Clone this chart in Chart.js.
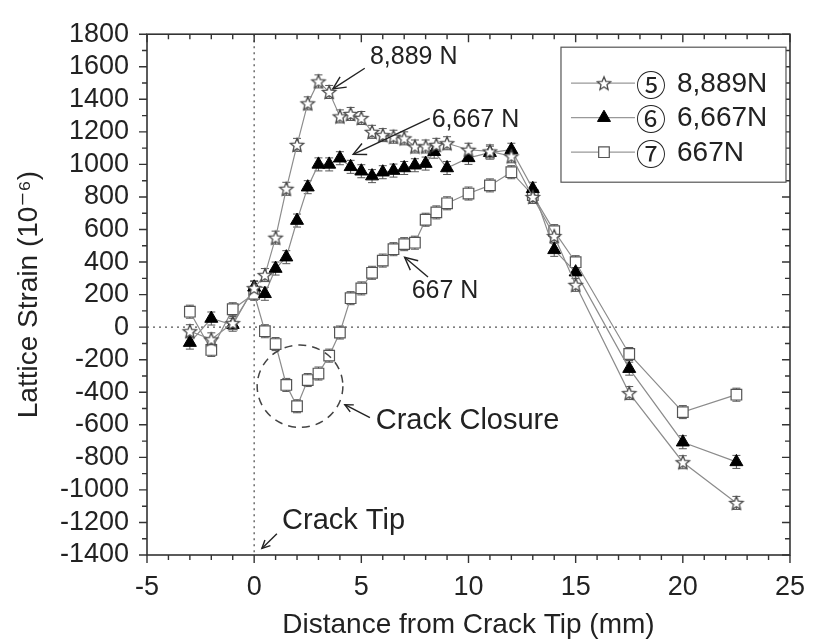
<!DOCTYPE html>
<html><head><meta charset="utf-8">
<script src="https://cdn.jsdelivr.net/npm/chart.js@4.4.1/dist/chart.umd.min.js"></script>
<style>html,body{margin:0;padding:0;background:#fff}canvas{display:block}</style>
</head><body>
<canvas id="c" width="821" height="644"></canvas>
<script>
// ---- data ----
const xStar = [-3,-2,-1,0,0.5,1,1.5,2,2.5,3,3.5,4,4.5,5,5.5,6,6.5,7,7.5,8,8.5,9,10,11,12,13,14,15,17.5,20,22.5];
const yStar = [-25,-75,25,240,320,550,850,1120,1375,1510,1445,1295,1310,1285,1200,1180,1170,1160,1110,1110,1120,1130,1090,1080,1050,800,560,260,-405,-830,-1080];
const xTri  = [-3,-2,-1,0,0.5,1,1.5,2,2.5,3,3.5,4,4.5,5,5.5,6,6.5,7,7.5,8,8.4,9,10,11,12,13,14,15,17.5,20,22.5];
const yTri  = [-95,53,15,245,205,360,430,655,860,1000,1000,1038,985,958,928,952,962,978,995,1005,1078,978,1040,1072,1090,850,475,338,-255,-707,-828];
const xSq   = [-3,-2,-1,0,0.5,1,1.5,2,2.5,3,3.5,4,4.5,5,5.5,6,6.5,7,7.5,8,8.5,9,10,11,12,13,14,15,17.5,20,22.5];
const ySq   = [95,-140,110,205,-25,-104,-355,-486,-325,-285,-175,-33,178,238,334,409,479,510,519,660,705,761,821,871,952,811,590,399,-165,-522,-415];
const seriesTags  = ['\u2464','\u2465','\u2466'];
const seriesNames = ['8,889N','6,667N','667N'];
const xTickLabels = [-5,0,5,10,15,20,25];
const yTickLabels = [-1400,-1200,-1000,-800,-600,-400,-200,0,200,400,600,800,1000,1200,1400,1600,1800];
const errHalf = 40;
const xTitle = 'Distance from Crack Tip (mm)';
const yTitle = 'Lattice Strain (10\u207B\u2076)';

// annotations (data coordinates)
const notes = [
  {text:'8,889 N', x:5.4, y:1657, size:25, tail:[5.16,1591], tip:[3.67,1464]},
  {text:'6,667 N', x:8.28, y:1273, size:25, tail:[8.19,1283], tip:[4.62,1062]},
  {text:'667 N', x:7.35, y:222, size:25, tail:[8.11,308], tip:[7.02,429]},
  {text:'Crack Closure', x:5.67, y:-576, size:29, tail:[5.4,-556], tip:[4.23,-476]},
  {text:'Crack Tip', x:1.3, y:-1190, size:29, tail:[1.06,-1270], tip:[0.36,-1360]}
];
const closure = {cx:2.14, cy:-363, rx:2.0, ry:253};

const FONT = '"Liberation Sans", Arial, "DejaVu Sans", sans-serif';

function makeStar(r, fill, stroke){
  const s = Math.ceil(r*2+4);
  const c = document.createElement('canvas'); c.width = s; c.height = s;
  const g = c.getContext('2d');
  g.translate(s/2, s/2+0.6);
  g.beginPath();
  for (let i=0;i<10;i++){
    const rr = i%2 ? r*0.45 : r;
    const a = -Math.PI/2 + i*Math.PI/5;
    g.lineTo(rr*Math.cos(a), rr*Math.sin(a));
  }
  g.closePath();
  g.fillStyle = fill; g.fill();
  g.lineWidth = 1.3; g.strokeStyle = stroke; g.stroke();
  return c;
}
const starImg = makeStar(7, '#fff', '#4a4a4a');

function pts(xs, ys){ return xs.map((x,i)=>({x:x, y:ys[i]})); }

const datasets = [
  {label: seriesNames[0], data: pts(xStar,yStar), pointStyle: starImg, pointRadius: 7,
   borderColor:'#8c8c8c', borderWidth:1.2, backgroundColor:'#fff', pointBorderColor:'#555', pointBackgroundColor:'#fff'},
  {label: seriesNames[1], data: pts(xTri,yTri), pointStyle:'triangle', pointRadius: 7.5,
   borderColor:'#8c8c8c', borderWidth:1.2, backgroundColor:'#000', pointBorderColor:'#000', pointBackgroundColor:'#000', pointBorderWidth:1},
  {label: seriesNames[2], data: pts(xSq,ySq), pointStyle:'rect', pointRadius: 7.5,
   borderColor:'#8c8c8c', borderWidth:1.2, backgroundColor:'#fff', pointBorderColor:'#555', pointBackgroundColor:'#fff', pointBorderWidth:1.2}
];
datasets.forEach(d=>{ d.showLine = true; d.fill = false; d.tension = 0; d.pointHoverRadius = d.pointRadius; });

function arrow(ctx, x1,y1,x2,y2, head){
  ctx.beginPath(); ctx.moveTo(x1,y1); ctx.lineTo(x2,y2); ctx.stroke();
  const a = Math.atan2(y2-y1, x2-x1);
  ctx.beginPath();
  ctx.moveTo(x2 - head*Math.cos(a-0.45), y2 - head*Math.sin(a-0.45));
  ctx.lineTo(x2,y2);
  ctx.lineTo(x2 - head*Math.cos(a+0.45), y2 - head*Math.sin(a+0.45));
  ctx.stroke();
}

const decor = {
  id:'decor',
  beforeDatasetsDraw(chart){
    const {ctx, chartArea:ca, scales:{x,y}} = chart;
    ctx.save();
    ctx.strokeStyle = '#555'; ctx.lineWidth = 1.3; ctx.setLineDash([2,4]);
    const x0 = x.getPixelForValue(0), y0 = y.getPixelForValue(0);
    ctx.beginPath(); ctx.moveTo(x0, ca.top); ctx.lineTo(x0, ca.bottom); ctx.stroke();
    ctx.beginPath(); ctx.moveTo(ca.left, y0); ctx.lineTo(ca.right, y0); ctx.stroke();
    ctx.setLineDash([]);
    ctx.strokeStyle = '#555'; ctx.lineWidth = 1;
    chart.data.datasets.forEach(ds=>{
      ds.data.forEach(p=>{
        const px = x.getPixelForValue(p.x);
        const yt = y.getPixelForValue(p.y+errHalf), yb = y.getPixelForValue(p.y-errHalf);
        ctx.beginPath();
        ctx.moveTo(px, yt); ctx.lineTo(px, yb);
        ctx.moveTo(px-4, yt); ctx.lineTo(px+4, yt);
        ctx.moveTo(px-4, yb); ctx.lineTo(px+4, yb);
        ctx.stroke();
      });
    });
    ctx.restore();
  },
  afterDraw(chart){
    const {ctx, chartArea:ca, scales:{x,y}} = chart;
    ctx.save();
    ctx.strokeStyle = '#333'; ctx.lineWidth = 1.6;
    ctx.strokeRect(ca.left, ca.top, ca.right-ca.left, ca.bottom-ca.top);
    ctx.lineWidth = 1.4;
    ctx.beginPath();
    for (let v=-5; v<=25; v++){
      const px = x.getPixelForValue(v);
      const L = (v%5===0) ? 8 : 5;
      ctx.moveTo(px, ca.bottom); ctx.lineTo(px, ca.bottom+L);
      ctx.moveTo(px, ca.top); ctx.lineTo(px, ca.top+L);
    }
    for (let v=-1400; v<=1800; v+=100){
      const py = y.getPixelForValue(v);
      const L = (v%200===0) ? 8 : 5;
      ctx.moveTo(ca.left, py); ctx.lineTo(ca.left-L, py);
      ctx.moveTo(ca.right, py); ctx.lineTo(ca.right-L, py);
    }
    ctx.stroke();
    ctx.strokeStyle = '#444'; ctx.lineWidth = 1.5; ctx.setLineDash([8,6]);
    const ecx = x.getPixelForValue(closure.cx), ecy = y.getPixelForValue(closure.cy);
    const erx = Math.abs(x.getPixelForValue(closure.cx+closure.rx)-ecx);
    const ery = Math.abs(y.getPixelForValue(closure.cy+closure.ry)-ecy);
    ctx.beginPath(); ctx.ellipse(ecx, ecy, erx, ery, 0, 0, Math.PI*2); ctx.stroke();
    ctx.setLineDash([]);
    ctx.fillStyle = '#222'; ctx.strokeStyle = '#222'; ctx.lineWidth = 1.4;
    ctx.textBaseline = 'middle'; ctx.textAlign = 'left';
    notes.forEach(n=>{
      ctx.font = n.size + 'px ' + FONT;
      ctx.fillText(n.text, x.getPixelForValue(n.x), y.getPixelForValue(n.y));
      arrow(ctx, x.getPixelForValue(n.tail[0]), y.getPixelForValue(n.tail[1]),
                 x.getPixelForValue(n.tip[0]), y.getPixelForValue(n.tip[1]), n.size>26 ? 9 : 14);
    });
    // legend
    const bx = ca.right - 229, by = ca.top + 13, bw = 225, bh = 135;
    ctx.fillStyle = '#fff'; ctx.fillRect(bx, by, bw, bh);
    ctx.strokeStyle = '#555'; ctx.lineWidth = 1.2; ctx.strokeRect(bx, by, bw, bh);
    chart.data.datasets.forEach((ds,i)=>{
      const ly = by + 36 + i*34.5;
      ctx.strokeStyle = '#999'; ctx.lineWidth = 1.2;
      ctx.beginPath(); ctx.moveTo(bx+10, ly); ctx.lineTo(bx+74, ly); ctx.stroke();
      ctx.fillStyle = ds.pointBackgroundColor; ctx.strokeStyle = ds.pointBorderColor;
      ctx.lineWidth = ds.pointBorderWidth || 1;
      Chart.helpers.drawPoint(ctx, {pointStyle: ds.pointStyle, radius: ds.pointRadius, rotation:0, borderWidth: ds.pointBorderWidth || 1}, bx+43, ly);
      ctx.fillStyle = '#222'; ctx.textBaseline = 'middle';
      ctx.font = '30px "Noto Sans CJK JP", "DejaVu Sans", sans-serif';
      ctx.fillText(seriesTags[i], bx+75, ly+1);
      ctx.font = '28px ' + FONT;
      ctx.fillText(seriesNames[i], bx+116, ly+1);
    });
    ctx.restore();
  }
};

new Chart(document.getElementById('c'), {
  type:'line',
  data:{ datasets },
  options:{
    responsive:false, animation:false,
    layout:{ padding:{ top:24, right:30, left:0, bottom:0 } },
    plugins:{ legend:{display:false}, tooltip:{enabled:false} },
    scales:{
      x:{ type:'linear', min:-5, max:25,
          afterFit(s){ s.height = 89; },
          afterBuildTicks(s){ s.ticks = xTickLabels.map(v=>({value:v})); },
          grid:{ display:false, drawTicks:false }, border:{ display:false },
          ticks:{ padding:16, autoSkip:false, color:'#222', font:{ family:FONT, size:27 }, callback:v=>String(v), maxRotation:0 },
          title:{ display:true, text:xTitle, color:'#222', font:{ family:FONT, size:28 }, padding:{top:0,bottom:2} } },
      y:{ type:'linear', min:-1400, max:1800,
          afterFit(s){ s.width = 147; },
          afterBuildTicks(s){ s.ticks = yTickLabels.map(v=>({value:v})); },
          grid:{ display:false, drawTicks:false }, border:{ display:false },
          ticks:{ padding:18, autoSkip:false, color:'#222', font:{ family:FONT, size:27 }, callback:v=>String(v) },
          title:{ display:true, text:yTitle, color:'#222', font:{ family:FONT, size:28 }, padding:{top:12,bottom:0} } }
    }
  },
  plugins:[decor]
});
</script>
</body></html>
